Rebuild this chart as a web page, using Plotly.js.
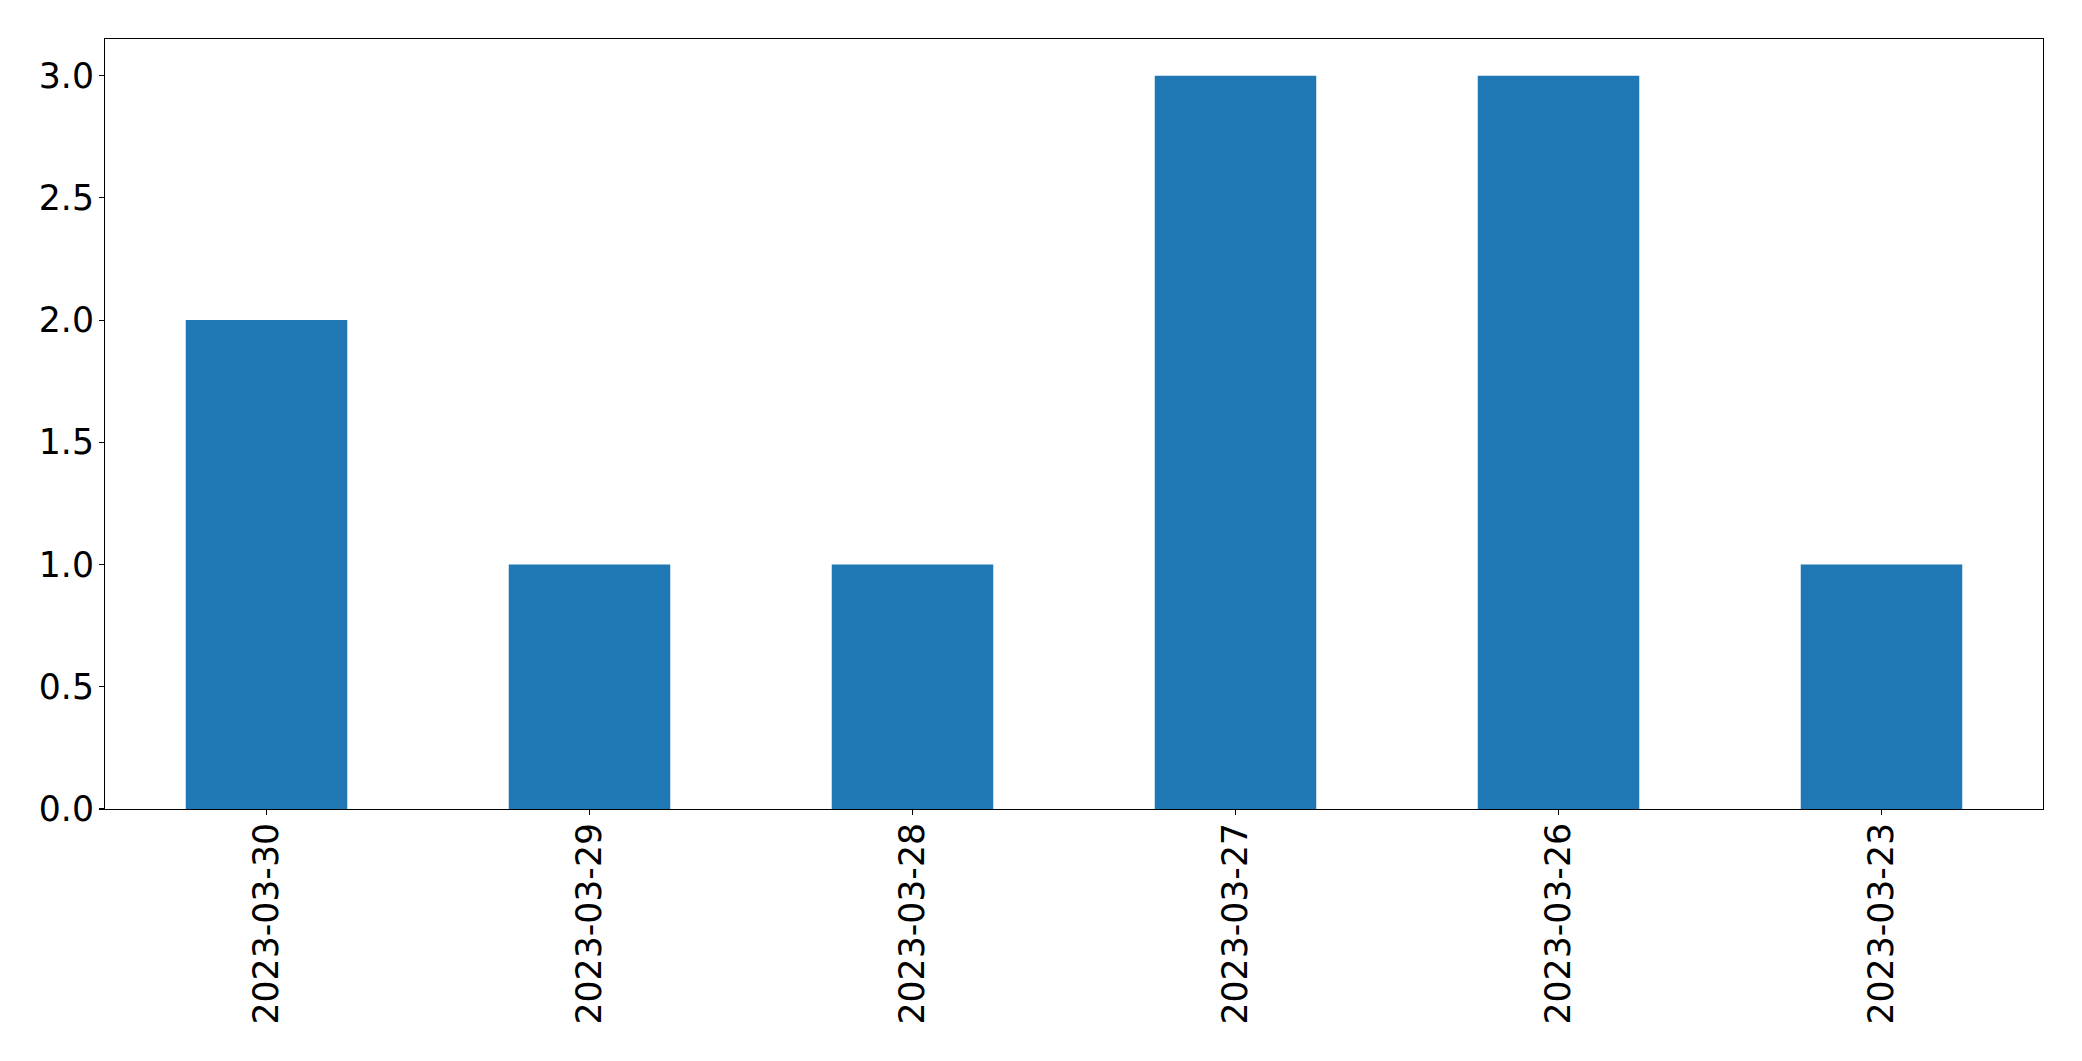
<!DOCTYPE html>
<html><head><meta charset="utf-8">
<script src="https://cdn.plot.ly/plotly-3.0.1.min.js"></script>
<style>html,body{margin:0;padding:0;background:#fff}#chart{width:2082px;height:1061px}</style>
</head><body><div id="chart"></div>
<script>
const categories = ["2023-03-30","2023-03-29","2023-03-28","2023-03-27","2023-03-26","2023-03-23"];
const values = [2, 1, 1, 3, 3, 1];
const yTicks = [0, 0.5, 1, 1.5, 2, 2.5, 3];
const yTickLabels = ["0.0","0.5","1.0","1.5","2.0","2.5","3.0"];

const font = {family: "DejaVu Sans", size: 34.7, color: "#000"};
Plotly.newPlot("chart", [{
  type: "bar", x: categories, y: values, width: 0.5,
  marker: {color: "#1f77b4", line: {width: 0}}, hoverinfo: "none"
}], {
  width: 2082, height: 1061,
  margin: {l: 105, r: 39, t: 39, b: 252, pad: 0},
  paper_bgcolor: "#fff", plot_bgcolor: "#fff",
  showlegend: false, font: font,
  xaxis: {type: "category", range: [-0.5, 5.5], tickangle: -90, ticks: "outside", ticklen: 5, tickwidth: 1.1,
    tickcolor: "#000", showline: true, linecolor: "#000", linewidth: 1.1, mirror: true, showgrid: false,
    zeroline: false, tickfont: font, automargin: false, ticklabelstandoff: -6},
  yaxis: {range: [0, 3.15], tickvals: yTicks, ticktext: yTickLabels, ticks: "outside", ticklen: 5, tickwidth: 1.1,
    tickcolor: "#000", showline: true, linecolor: "#000", linewidth: 1.1, mirror: true, showgrid: false,
    zeroline: false, tickfont: font, automargin: false, ticklabelstandoff: -2}
}, {staticPlot: true});
</script></body></html>
